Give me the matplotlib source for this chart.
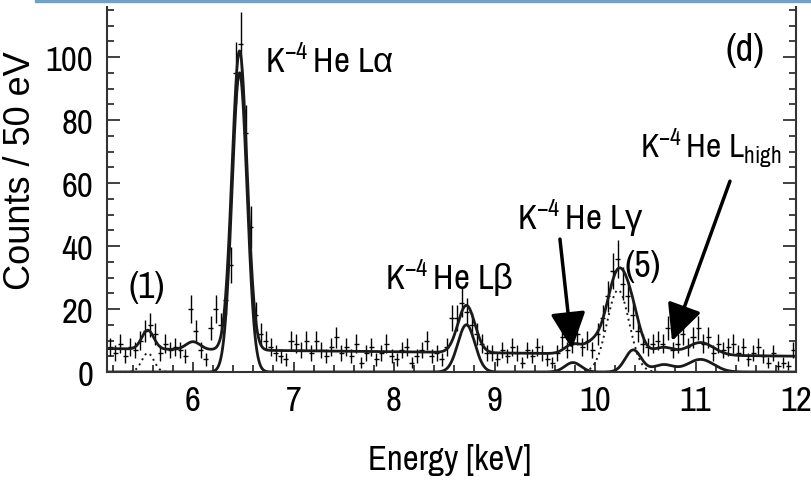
import numpy as np
import matplotlib
matplotlib.use('Agg')
import matplotlib.pyplot as plt
from matplotlib.ticker import MultipleLocator
from matplotlib.patches import Rectangle

plt.rcParams['font.family'] = ['Archivo Narrow', 'Liberation Sans', 'DejaVu Sans']
plt.rcParams['mathtext.fontset'] = 'custom'
plt.rcParams['mathtext.rm'] = 'Liberation Sans'
plt.rcParams['mathtext.it'] = 'Liberation Sans:italic'

# 50 eV bins, counts
e_lo, bin_w = 5.175, 0.05
counts = [8, 6, 9, 5, 8, 7, 10, 13, 15, 12, 6, 9, 7, 8, 7, 5, 20, 13, 7, 4,
          14, 20, 15, 23, 34, 95, 104, 76, 46, 18, 12, 10, 8, 6, 5, 4, 10, 9, 7, 10,
          6, 10, 7, 5, 8, 11, 6, 8, 5, 9, 3, 6, 8, 4, 6, 9, 5, 4, 7, 8,
          3, 5, 7, 10, 5, 6, 4, 8, 17, 17, 22, 19, 15, 12, 9, 6, 6, 4, 7, 5,
          8, 6, 3, 7, 5, 8, 6, 4, 3, 6, 11, 7, 9, 12, 8, 10, 7, 12, 17, 24,
          32, 36, 28, 24, 18, 13, 9, 8, 9, 10, 9, 14, 7, 9, 12, 8, 11, 14, 9, 11,
          6, 9, 7, 8, 9, 6, 8, 4, 6, 8, 5, 3, 6, 2, 3, 2, 7]

# fit: kaonic helium lines (lower solid curve)
he_pos = [6.463, 8.72, 9.78, 10.38, 10.68, 11.05]
he_amp = [95.0, 15.0, 3.0, 7.0, 2.3, 4.0]
he_sig = [0.075, 0.085, 0.08, 0.08, 0.10, 0.13]
# contamination lines (1) and (5) (dotted curve)
cont_pos = [5.55, 10.23]
cont_amp = [6.0, 26.0]
cont_sig = [0.06, 0.11]
# other small lines only in the total fit
oth_pos = [6.0, 9.97]
oth_amp = [2.5, 3.0]
oth_sig = [0.07, 0.08]
# linear background
bg_a, bg_b = 7.4, -0.35


def gsum(x, pos, amp, sig):
    y = np.zeros_like(x)
    for p, a, s in zip(pos, amp, sig):
        y += a * np.exp(-0.5 * ((x - p) / s) ** 2)
    return y


counts = np.array(counts, dtype=float)
energy = e_lo + bin_w * np.arange(len(counts))

fig = plt.figure(figsize=(8.11, 4.81), dpi=100)
ax = fig.add_axes([107 / 811, 108 / 481, 689 / 811, 365 / 481])

xf = np.linspace(5.1, 12.05, 1500)
he = gsum(xf, he_pos, he_amp, he_sig)
cont = gsum(xf, cont_pos, cont_amp, cont_sig)
total = bg_a + bg_b * (xf - 5.2) + he + cont + gsum(xf, oth_pos, oth_amp, oth_sig)

ax.errorbar(energy, counts, xerr=bin_w / 2, yerr=np.sqrt(counts), fmt='none',
            ecolor='black', elinewidth=1.0, capsize=0)
ax.plot(xf, total, color='#1a1a1a', lw=2.0)
ax.plot(xf, he, color='#1a1a1a', lw=2.0)
ax.plot(xf, cont, color='#1a1a1a', lw=1.4, ls=(0, (1, 2)))

ax.set_xlim(5.144, 12.0)
ax.set_ylim(0, 115.9)
ax.spines['top'].set_visible(False)
for s in ['left', 'right', 'bottom']:
    ax.spines[s].set_linewidth(1.5)
    ax.spines[s].set_color('#333333')

ax.xaxis.set_major_locator(MultipleLocator(1))
ax.xaxis.set_minor_locator(MultipleLocator(0.2))
ax.yaxis.set_major_locator(MultipleLocator(20))
ax.yaxis.set_minor_locator(MultipleLocator(5))
ax.tick_params(which='both', direction='in', left=True, right=True, top=False,
               bottom=True, color='#333333', width=1.3)
ax.tick_params(axis='y', which='major', length=9.5, pad=10, labelsize=25)
ax.tick_params(axis='y', which='minor', length=5)
ax.tick_params(axis='x', which='major', length=7, pad=9, labelsize=25)
ax.tick_params(axis='x', which='minor', length=5)

ax.set_xlabel('Energy [keV]', fontsize=25, va='center')
ax.xaxis.set_label_coords(0.498, -0.238)
ax.set_ylabel('Counts / 50 eV', fontsize=26, ha='center', va='center',
              family=['Liberation Sans', 'DejaVu Sans'])
ax.yaxis.set_label_coords(-0.125, 0.555)

lab = dict(fontsize=25, va='baseline', ha='left')
sup = r'K$^{\mathregular{-4}}\,$He '
ax.text(6.716, 95.2, sup + r'L$\mathrm{\alpha}$', **lab)
ax.text(7.91, 26.3, sup + r'L$\mathrm{\beta}$', **lab)
ax.text(9.224, 45.4, sup + r'L$\mathrm{\gamma}$', **lab)
ax.text(10.45, 68.3, sup + r'L$_{\mathregular{high}}$', fontsize=24,
        va='baseline', ha='left')
ax.text(5.542, 27.3, '(1)', fontsize=26, ha='center', va='center')
ax.text(10.477, 33.7, '(5)', fontsize=26, ha='center', va='center')
ax.text(11.492, 102.5, '(d)', fontsize=28, ha='center', va='center')

arr = dict(arrowstyle='-|>,head_length=0.5,head_width=0.24', lw=2.5,
           color='black', mutation_scale=45, shrinkA=0, shrinkB=0)
ax.annotate('', xy=(9.771, 7.3), xytext=(9.651, 42.2), arrowprops=arr)
ax.annotate('', xy=(10.766, 9.8), xytext=(11.343, 60.6), arrowprops=arr)

fig.patches.append(Rectangle((35 / 811, 1 - 3 / 481), 1, 3 / 481,
                             transform=fig.transFigure, color='#6ba3c9'))

fig.savefig('out.png', dpi=100)
